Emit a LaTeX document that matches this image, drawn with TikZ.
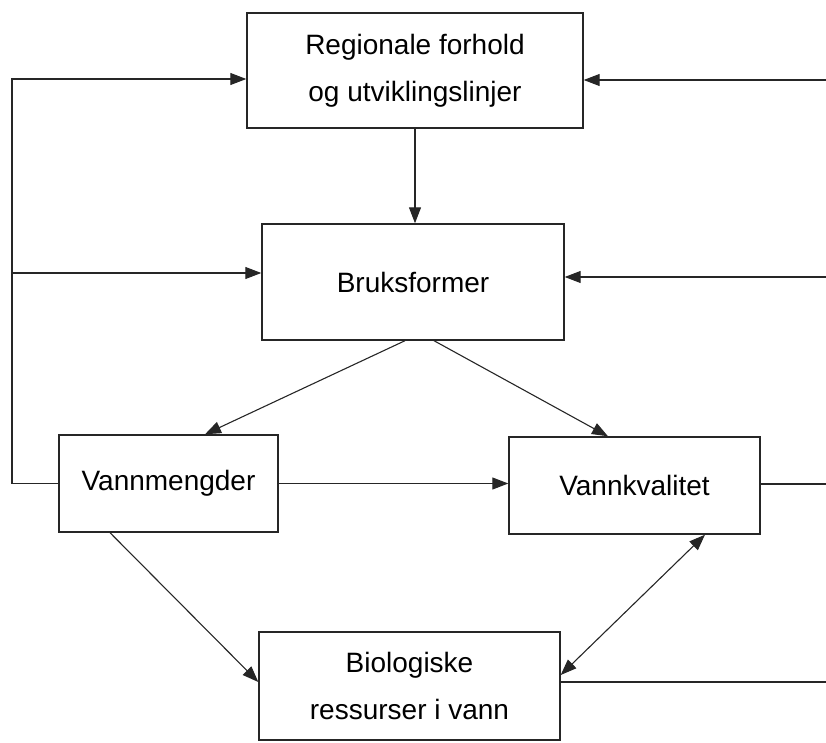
\documentclass[tikz,border=0pt]{standalone}
\usepackage{fontspec}
\setmainfont{Liberation Sans}
\usetikzlibrary{arrows.meta}

\begin{document}
\begin{tikzpicture}[x=1pt,y=-1pt,
  box/.style={draw=black!85,line width=1.4pt,align=center,inner sep=0pt,font=\fontsize{28}{47}\selectfont},
  arr/.style={line width=1.1pt,draw=black!85,-{Triangle[length=16pt,width=12pt]}},
  lin/.style={line width=1.1pt,draw=black!85}]
\useasboundingbox (0,0) rectangle (826,743);
\node[box,minimum width=336pt,minimum height=115pt] (reg) at (415,70.5) {Regionale forhold\\og utviklingslinjer};
\node[box,minimum width=302pt,minimum height=116pt] (bruk) at (413,282) {Bruksformer};
\node[box,minimum width=219pt,minimum height=97pt] (mengde) at (168.5,483.5) {Vannmengder};
\node[box,minimum width=251pt,minimum height=97pt] (kval) at (634.5,485.5) {Vannkvalitet};
\node[box,minimum width=301pt,minimum height=108pt] (bio) at (409.5,686) {Biologiske\\ressurser i vann};
% free ends at the left and right borders
\coordinate (lb) at (12,483.5);
\coordinate (lm) at (12,273);
\coordinate (lt) at (12,79);
\coordinate (r1) at (826,80);
\coordinate (r2) at (826,277);
\coordinate (r3) at (826,484);
\coordinate (r4) at (826,682);
% feedback loops
\draw[arr] (mengde.west) -- (lb) -- (lt) -- (lt -| reg.west);
\draw[arr] (lm) -- (lm -| bruk.west);
\draw[arr] (r1) -- (r1 -| reg.east);
\draw[arr] (r2) -- (r2 -| bruk.east);
\draw[lin] (r3 -| kval.east) -- (r3);
\draw[lin] (r4 -| bio.east) -- (r4);
% main flow
\draw[arr] (reg.south) -- (reg.south |- bruk.north);
\draw[arr] ([xshift=-8pt]bruk.south) -- ([xshift=36.5pt]mengde.north);
\draw[arr] ([xshift=21pt]bruk.south) -- ([xshift=-26.5pt]kval.north);
\draw[arr] (mengde.east) -- (mengde.east -| kval.west);
\draw[arr] ([xshift=-58.5pt]mengde.south) -- ([yshift=4pt]bio.west);
\draw[arr,{Triangle[length=16pt,width=12pt]}-{Triangle[length=16pt,width=12pt]}] ([xshift=70.5pt]kval.south) -- ([yshift=11pt]bio.east);
\end{tikzpicture}
\end{document}
